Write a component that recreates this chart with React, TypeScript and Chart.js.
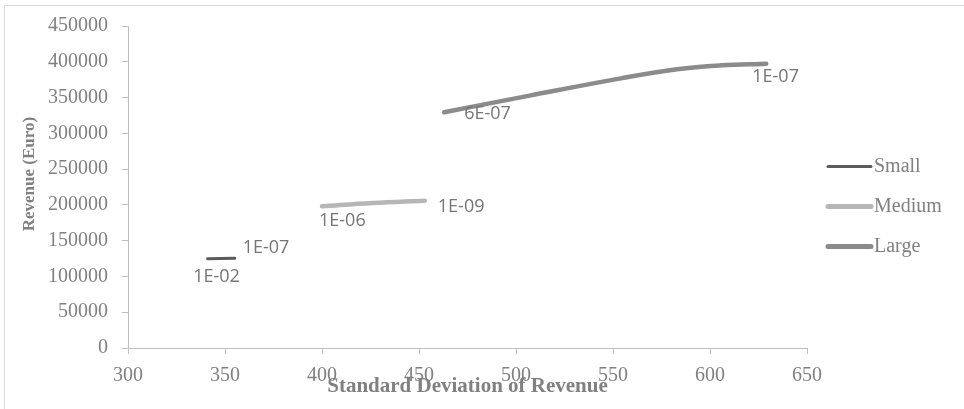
import React, { useEffect, useRef } from "react";
import { Chart, registerables } from "chart.js";
Chart.register(...registerables);

// ---- data ----
const seriesNames = ["Small", "Medium", "Large"];
const smallX = [341, 355];
const smallY = [124800, 125300];
const mediumX = [400, 426, 453];
const mediumY = [198000, 202600, 205900];
const largeX = [463, 507, 554, 583, 606, 629];
const largeY = [329500, 352700, 376800, 389500, 395000, 397400];
const smallLabels = ["1E-02", "1E-07"];
const mediumLabels = ["1E-06", "1E-09"];
const largeLabels = ["6E-07", "1E-07"];
const xMin = 300, xMax = 650, xStep = 50;
const yMin = 0, yMax = 450000, yStep = 50000;
const xTitle = "Standard Deviation of Revenue";
const yTitle = "Revenue (Euro)";

// ---- styles ----
const colors = ["#5b5b5b", "#b6b6b8", "#8b8b8d"];
const widths = [3, 4.5, 4.5];
const legendWidths = [3, 5, 5];
const labelOffsets = [
  [{ dx: 9, dy: 18, align: "center" }, { dx: 8, dy: -10, align: "left" }],
  [{ dx: -3, dy: 15, align: "left" }, { dx: 13, dy: 6, align: "left" }],
  [{ dx: 20, dy: 2, align: "left" }, { dx: -14, dy: 13, align: "left" }],
];
const grey = "#808080";
const axisGrey = "#bfbfbf";
const serif = "'Liberation Serif', serif";

const zip = (xs: number[], ys: number[]) => xs.map((x, i) => ({ x, y: ys[i] }));

const allLabels = [smallLabels, mediumLabels, largeLabels];

const extrasPlugin = {
  id: "extras",
  afterDatasetsDraw(chart: any) {
    const ctx = chart.ctx;
    const area = chart.chartArea;
    ctx.save();
    // data labels
    ctx.font = "18px 'Open Sans', sans-serif";
    ctx.fillStyle = "#757575";
    ctx.textBaseline = "middle";
    chart.data.datasets.forEach((ds: any, di: number) => {
      const meta = chart.getDatasetMeta(di);
      const pts = meta.data;
      const labs = allLabels[di];
      const idxs = [0, pts.length - 1];
      idxs.forEach((pi, k) => {
        const p = pts[pi];
        const o = labelOffsets[di][k];
        ctx.textAlign = o.align;
        ctx.fillText(labs[k], p.x + o.dx, p.y + o.dy);
      });
    });
    // y title
    ctx.save();
    ctx.font = "bold 17px " + serif;
    ctx.fillStyle = grey;
    ctx.textAlign = "center";
    ctx.textBaseline = "middle";
    ctx.translate(area.left - 98, area.top + area.height * 0.46);
    ctx.rotate(-Math.PI / 2);
    ctx.fillText(yTitle, 0, 0);
    ctx.restore();
    // legend
    const lx = area.right + 21;
    const cy = chart.height / 2 + 2;
    ctx.font = "20px " + serif;
    ctx.textAlign = "left";
    ctx.textBaseline = "middle";
    seriesNames.forEach((name, i) => {
      const y = cy + (i - 1) * 40;
      ctx.beginPath();
      ctx.strokeStyle = colors[i];
      ctx.lineWidth = legendWidths[i];
      ctx.lineCap = "round";
      ctx.moveTo(lx, y);
      ctx.lineTo(lx + 43, y);
      ctx.stroke();
      ctx.fillStyle = grey;
      ctx.fillText(name, lx + 46, y);
    });
    ctx.restore();
  },
};

export default function App() {
  const ref = useRef<HTMLCanvasElement>(null);
  useEffect(() => {
    document.body.style.margin = "0";
    const chart = new Chart(ref.current!, {
      type: "scatter",
      data: {
        datasets: [
          { label: seriesNames[0], data: zip(smallX, smallY) },
          { label: seriesNames[1], data: zip(mediumX, mediumY) },
          { label: seriesNames[2], data: zip(largeX, largeY) },
        ].map((d, i) => ({
          ...d,
          showLine: true,
          borderColor: colors[i],
          backgroundColor: colors[i],
          borderWidth: widths[i],
          borderCapStyle: "round",
          borderJoinStyle: "round",
          pointRadius: 0,
          pointHoverRadius: 0,
          tension: 0.4,
        })),
      },
      options: {
        animation: false,
        responsive: false,
        maintainAspectRatio: false,
        events: [],
        layout: { padding: { left: 20, top: 23, right: 157, bottom: 10 } },
        plugins: { legend: { display: false }, tooltip: { enabled: false } },
        scales: {
          x: {
            type: "linear",
            min: xMin,
            max: xMax,
            afterFit: (s: any) => { s.height = 51; },
            ticks: {
              stepSize: xStep,
              padding: 10,
              color: grey,
              font: { family: serif, size: 20 },
              maxRotation: 0,
              callback: (v: any) => String(v),
            },
            grid: { drawOnChartArea: false, drawTicks: true, tickLength: 6, color: axisGrey, lineWidth: 1 },
            border: { color: axisGrey, width: 1 },
            title: {
              display: true,
              text: xTitle,
              color: grey,
              font: { family: serif, size: 21, weight: "bold" },
              padding: 0,
            },
          },
          y: {
            type: "linear",
            min: yMin,
            max: yMax,
            afterFit: (s: any) => { s.width = 108; },
            ticks: {
              stepSize: yStep,
              padding: 14,
              color: grey,
              font: { family: serif, size: 20 },
              callback: (v: any) => String(v),
            },
            grid: { drawOnChartArea: false, drawTicks: true, tickLength: 6, color: axisGrey, lineWidth: 1 },
            border: { color: axisGrey, width: 1 },
          },
        },
      },
      plugins: [extrasPlugin],
    } as any);
    return () => chart.destroy();
  }, []);
  return (
    <div style={{ position: "relative", width: 964, height: 409, background: "#fff", overflow: "hidden" }}>
      <div
        style={{
          position: "absolute",
          left: 4,
          top: 5,
          width: 970,
          height: 420,
          borderLeft: "1.5px solid #d9d9d9",
          borderTop: "1.5px solid #d9d9d9",
          boxSizing: "border-box",
        }}
      />
      <canvas ref={ref} width={964} height={409} style={{ position: "absolute", left: 0, top: 0, display: "block" }} />
    </div>
  );
}
